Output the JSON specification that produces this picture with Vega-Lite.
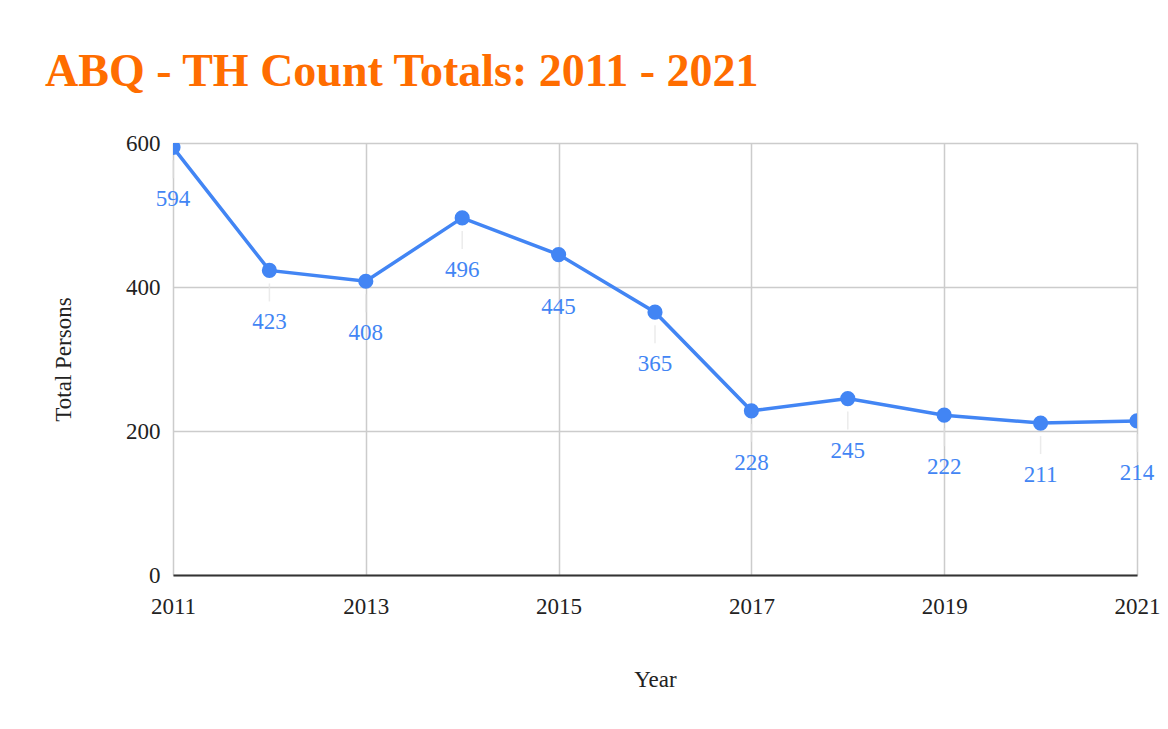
{
  "$schema": "https://vega.github.io/schema/vega-lite/v6.json",
  "width": 964,
  "height": 432,
  "autosize": {"type": "none"},
  "padding": {"left": 173, "top": 143, "right": 31, "bottom": 154},
  "background": "white",
  "title": {
    "text": "ABQ - TH Count Totals: 2011 - 2021",
    "anchor": "start",
    "frame": "group",
    "dx": -128,
    "offset": 36,
    "font": "Liberation Serif",
    "fontSize": 46,
    "fontWeight": "bold",
    "color": "#FF6D00"
  },
  "config": {
    "view": {"stroke": null},
    "axis": {
      "labelFont": "Liberation Serif",
      "titleFont": "Liberation Serif",
      "labelFontSize": 23,
      "titleFontSize": 23,
      "labelColor": "#222",
      "titleColor": "#222",
      "titleFontWeight": "normal",
      "gridColor": "#cccccc",
      "gridWidth": 1.5,
      "ticks": false
    }
  },
  "data": {
    "values": [
      {"Year": 2011, "Total": 594},
      {"Year": 2012, "Total": 423},
      {"Year": 2013, "Total": 408},
      {"Year": 2014, "Total": 496},
      {"Year": 2015, "Total": 445},
      {"Year": 2016, "Total": 365},
      {"Year": 2017, "Total": 228},
      {"Year": 2018, "Total": 245},
      {"Year": 2019, "Total": 222},
      {"Year": 2020, "Total": 211},
      {"Year": 2021, "Total": 214}
    ]
  },
  "encoding": {
    "x": {
      "field": "Year",
      "type": "quantitative",
      "scale": {"domain": [2011, 2021], "nice": false, "zero": false},
      "axis": {
        "values": [2011, 2013, 2015, 2017, 2019, 2021],
        "format": "d",
        "title": "Year",
        "labelPadding": 20,
        "titlePadding": 50,
        "domainColor": "#333333",
        "domainWidth": 2,
        "labelFlush": false
      }
    },
    "y": {
      "field": "Total",
      "type": "quantitative",
      "scale": {"domain": [0, 600], "nice": false},
      "axis": {
        "values": [0, 200, 400, 600],
        "title": "Total Persons",
        "domain": false,
        "labelPadding": 13,
        "titlePadding": 50
      }
    }
  },
  "layer": [
    {
      "mark": {"type": "tick", "orient": "vertical", "size": 18, "yOffset": 22, "color": "#e3e3e3", "thickness": 1.5}
    },
    {
      "mark": {"type": "line", "color": "#4285F4", "strokeWidth": 3.5, "clip": true}
    },
    {
      "mark": {"type": "point", "filled": true, "opacity": 1, "color": "#4285F4", "size": 230, "clip": true}
    },
    {
      "mark": {"type": "text", "dy": 52, "font": "Liberation Serif", "fontSize": 23, "color": "#4285F4"},
      "encoding": {"text": {"field": "Total", "type": "quantitative"}}
    }
  ]
}
